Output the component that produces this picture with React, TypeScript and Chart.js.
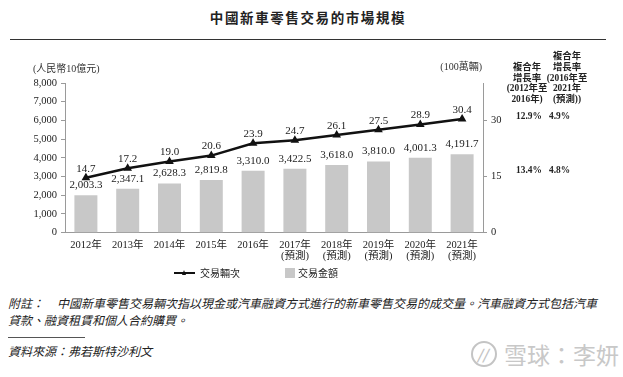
import React, { useEffect, useRef } from "react";
import { Chart, registerables } from "chart.js";

Chart.register(...registerables);

const categories: string[][] = [
  ["2012年"],
  ["2013年"],
  ["2014年"],
  ["2015年"],
  ["2016年"],
  ["2017年", "(預測)"],
  ["2018年", "(預測)"],
  ["2019年", "(預測)"],
  ["2020年", "(預測)"],
  ["2021年", "(預測)"],
];
const amountValues = [2003.3, 2347.1, 2628.3, 2819.8, 3310.0, 3422.5, 3618.0, 3810.0, 4001.3, 4191.7];
const volumeValues = [14.7, 17.2, 19.0, 20.6, 23.9, 24.7, 26.1, 27.5, 28.9, 30.4];
const leftTicks = [0, 1000, 2000, 3000, 4000, 5000, 6000, 7000, 8000];
const rightTicks = [0, 15, 30];
const cagrVolume = ["12.9%", "4.9%"];
const cagrAmount = ["13.4%", "4.8%"];
const seriesNames = ["交易輛次", "交易金額"];
const cagrHead1 = ["複合年", "增長率", "(2012年至", "2016年)"];
const cagrHead2 = ["複合年", "增長率", "(2016年至", "2021年", "(預測))"];

const SERIF = "'Liberation Serif', 'Noto Sans CJK TC', serif";
const CJK = "'Noto Sans CJK TC', 'Liberation Serif', sans-serif";

const fmtAmount = (v: number) =>
  v.toLocaleString("en-US", { minimumFractionDigits: 1, maximumFractionDigits: 1 });

const valueLabels = {
  id: "valueLabels",
  afterDatasetsDraw(chart: any) {
    const ctx = chart.ctx;
    ctx.save();
    ctx.font = `11px ${SERIF}`;
    ctx.fillStyle = "#222";
    ctx.textAlign = "center";
    ctx.textBaseline = "middle";
    chart.data.datasets.forEach((ds: any, i: number) => {
      const meta = chart.getDatasetMeta(i);
      meta.data.forEach((el: any, j: number) => {
        const v = ds.data[j] as number;
        const isBar = ds.type === "bar";
        const txt = isBar ? fmtAmount(v) : v.toFixed(1);
        ctx.fillText(txt, el.x, el.y - (isBar ? 10 : 9));
      });
    });
    ctx.restore();
  },
};

function Txt(props: { x: number; y: number; children: any; align?: "left" | "center" | "right"; style?: any }) {
  const { x, y, align = "left", style } = props;
  const tx = align === "left" ? "0" : align === "center" ? "-50%" : "-100%";
  return (
    <div
      style={{
        position: "absolute",
        left: x,
        top: y,
        transform: `translate(${tx}, -50%)`,
        whiteSpace: "nowrap",
        lineHeight: 1,
        ...style,
      }}
    >
      {props.children}
    </div>
  );
}

export default function App() {
  const ref = useRef<HTMLCanvasElement | null>(null);

  useEffect(() => {
    if (!ref.current) return;
    const tickFont = { family: SERIF, size: 10.5, lineHeight: 1.05 };
    const chart = new Chart(ref.current, {
      type: "bar",
      data: {
        labels: categories,
        datasets: [
          {
            type: "line",
            label: seriesNames[0],
            data: volumeValues,
            yAxisID: "y1",
            borderColor: "#111",
            backgroundColor: "#111",
            borderWidth: 2.5,
            pointStyle: "triangle",
            pointRadius: 2.5,
            pointBackgroundColor: "#111",
            pointBorderColor: "#111",
            tension: 0,
            order: 0,
          } as any,
          {
            type: "bar",
            label: seriesNames[1],
            data: amountValues,
            yAxisID: "y",
            backgroundColor: "#c8c8c8",
            barPercentage: 0.55,
            categoryPercentage: 1,
            order: 1,
          } as any,
        ],
      },
      options: {
        animation: false,
        responsive: false,
        devicePixelRatio: 1,
        layout: { padding: { top: 33, left: 0, right: 0, bottom: 0 } },
        plugins: {
          legend: { display: false },
          title: { display: false },
          tooltip: { enabled: false },
        },
        scales: {
          x: {
            grid: { display: false, drawTicks: false },
            border: { display: true, color: "#9a9a9a", width: 1 },
            ticks: { font: tickFont, color: "#222", padding: 7, maxRotation: 0, autoSkip: false },
            afterFit: (s: any) => {
              s.height = 47.3;
            },
          },
          y: {
            position: "left",
            min: 0,
            max: 8000,
            grid: { display: true, drawOnChartArea: false, tickLength: 4, color: "#9a9a9a" },
            border: { display: true, color: "#9a9a9a", width: 1 },
            ticks: {
              font: tickFont,
              color: "#222",
              padding: 4,
              stepSize: 1000,
              callback: (v: any) => Number(v).toLocaleString("en-US"),
            },
            afterBuildTicks: (s: any) => {
              s.ticks = leftTicks.map((v) => ({ value: v }));
            },
            afterFit: (s: any) => {
              s.width = 65;
            },
          },
          y1: {
            position: "right",
            min: 0,
            max: 40,
            grid: { display: true, drawOnChartArea: false, tickLength: 4, color: "#9a9a9a" },
            border: { display: true, color: "#9a9a9a", width: 1 },
            ticks: { font: tickFont, color: "#222", padding: 4 },
            afterBuildTicks: (s: any) => {
              s.ticks = rightTicks.map((v) => ({ value: v }));
            },
            afterFit: (s: any) => {
              s.width = 140;
            },
          },
        },
      } as any,
      plugins: [valueLabels],
    });
    return () => chart.destroy();
  }, []);

  const small = { fontFamily: SERIF, fontSize: 9.4, fontWeight: 700, color: "#222" };
  const note = { fontFamily: CJK, fontSize: 12, fontStyle: "italic", color: "#222" };

  return (
    <div
      style={{
        position: "absolute",
        left: 0,
        top: 0,
        width: 623,
        height: 377,
        background: "#fff",
        overflow: "hidden",
      }}
    >
      <Txt x={308} y={18} align="center" style={{ fontFamily: CJK, fontSize: 13.5, fontWeight: 700, letterSpacing: 1.6, color: "#222" }}>
        中國新車零售交易的市場規模
      </Txt>
      <div style={{ position: "absolute", left: 10, top: 38.5, width: 596, height: 1.8, background: "#333" }} />

      <canvas ref={ref} width={623} height={230} style={{ position: "absolute", left: 0, top: 50, width: 623, height: 230 }} />

      <Txt x={33} y={69} style={{ fontFamily: SERIF, fontSize: 10, color: "#333" }}>
        (人民幣10億元)
      </Txt>
      <Txt x={482} y={67} align="right" style={{ fontFamily: SERIF, fontSize: 10, color: "#333" }}>
        (100萬輛)
      </Txt>

      {/* CAGR headers */}
      {cagrHead1.map((t, i) => (
        <Txt key={"h1" + i} x={527} y={67.8 + i * 10.8} align="center" style={small}>
          {t}
        </Txt>
      ))}
      {cagrHead2.map((t, i) => (
        <Txt key={"h2" + i} x={567} y={57 + i * 10.8} align="center" style={small}>
          {t}
        </Txt>
      ))}

      <Txt x={516} y={117} style={small}>{cagrVolume[0]}</Txt>
      <Txt x={549} y={117} style={small}>{cagrVolume[1]}</Txt>
      <Txt x={516} y={171} style={small}>{cagrAmount[0]}</Txt>
      <Txt x={549} y={171} style={small}>{cagrAmount[1]}</Txt>

      {/* legend */}
      <div style={{ position: "absolute", left: 174, top: 272, width: 21, height: 2, background: "#111" }} />
      <div
        style={{
          position: "absolute",
          left: 182,
          top: 270,
          width: 0,
          height: 0,
          borderLeft: "2.5px solid transparent",
          borderRight: "2.5px solid transparent",
          borderBottom: "5px solid #111",
        }}
      />
      <Txt x={200} y={273} style={{ fontFamily: CJK, fontSize: 10, color: "#222" }}>{seriesNames[0]}</Txt>
      <div style={{ position: "absolute", left: 285, top: 268, width: 10, height: 10, background: "#c8c8c8" }} />
      <Txt x={298} y={273} style={{ fontFamily: CJK, fontSize: 10, color: "#222" }}>{seriesNames[1]}</Txt>

      {/* notes */}
      <Txt x={8} y={303} style={note}>附註：</Txt>
      <Txt x={57} y={303} style={note}>
        中國新車零售交易輛次指以現金或汽車融資方式進行的新車零售交易的成交量。汽車融資方式包括汽車
      </Txt>
      <Txt x={8} y={320} style={note}>貸款、融資租賃和個人合約購買。</Txt>
      <div style={{ position: "absolute", left: 8, top: 337, width: 77, height: 1, background: "#555" }} />
      <Txt x={8} y={351} style={note}>資料來源：弗若斯特沙利文</Txt>

      {/* watermark */}
      <div
        style={{
          position: "absolute",
          left: 471,
          top: 341,
          width: 26,
          height: 26,
          borderRadius: "50%",
          border: "2px solid #c4c4c4",
          boxSizing: "border-box",
        }}
      />
      <Txt x={477} y={354} style={{ fontFamily: CJK, fontSize: 14, fontWeight: 700, color: "#c4c4c4", fontStyle: "italic" }}>
        //
      </Txt>
      <Txt
        x={504}
        y={354}
        style={{ fontFamily: CJK, fontSize: 23, color: "#c8c8c8", textShadow: "0 0 1px #fff" }}
      >
        雪球：李妍
      </Txt>
    </div>
  );
}
